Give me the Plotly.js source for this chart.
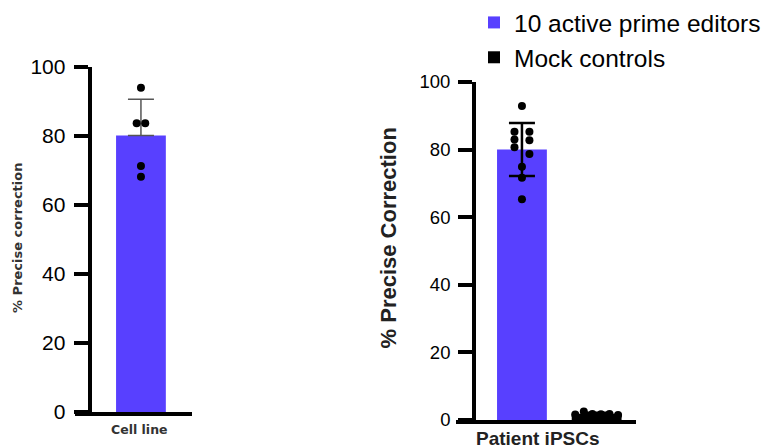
<!DOCTYPE html>
<html>
<head>
<meta charset="utf-8">
<script src="https://cdn.plot.ly/plotly-3.0.1.min.js"></script>
<style>html,body{margin:0;padding:0;background:#fff;}#chart{width:766px;height:448px;}</style>
</head>
<body>
<div id="chart"></div>
<script>
// ---------------- data ----------------
const leftCategory = ['Cell line'];
const rightGroupLabel = 'Patient iPSCs';
const seriesNames = ['10 active prime editors', 'Mock controls'];
const cellLineValues = [94.0, 83.7, 83.7, 71.3, 68.2];
const editorValues = [92.9, 85.3, 85.3, 83.0, 82.8, 80.7, 78.7, 74.9, 71.7, 65.3];
const mockValues = [1.6, 2.5, 1.8, 1.7, 1.8, 1.5];
const yTickValues = [0, 20, 40, 60, 80, 100];
const yTitles = ['% Precise correction', '% Precise Correction'];

// ---------------- helpers ----------------
const W = 766, H = 448;
const mean = a => a.reduce((s, v) => s + v, 0) / a.length;
const sd = a => { const m = mean(a); return Math.sqrt(a.reduce((s, v) => s + (v - m) * (v - m), 0) / (a.length - 1)); };

// beeswarm-like offsets (in px) for dots
function swarm(values, pxPerValue, clusterPx, diamPx, colGap, rowGap) {
  const order = values.map((v, i) => i).sort((a, b) => values[b] - values[a]);
  const clusters = [];
  let cur = [order[0]];
  for (let k = 1; k < order.length; k++) {
    const prev = values[cur[cur.length - 1]], v = values[order[k]];
    if ((prev - v) * pxPerValue < clusterPx) cur.push(order[k]); else { clusters.push(cur); cur = [order[k]]; }
  }
  clusters.push(cur);
  const off = new Array(values.length).fill(0);
  clusters.forEach(c => {
    if (c.length === 1) return;
    const vs = c.map(i => values[i]);
    const range = (Math.max(...vs) - Math.min(...vs)) * pxPerValue;
    if (range < diamPx) {
      const byIdx = c.slice().sort((a, b) => a - b);
      byIdx.forEach((i, k) => { off[i] = (k - (byIdx.length - 1) / 2) * rowGap; });
    } else {
      c.forEach((i, k) => { off[i] = (k % 2 === 0 ? -colGap : colGap); });
    }
  });
  return off;
}

// ---------------- geometry ----------------
const L = { x0: 75, x1: 193, yAxisX: 90, yTop: 67, yBot: 412, range: [-1.304, 1.0098] };
const R = { x0: 458, x1: 638, yAxisX: 476, yTop: 82, yBot: 420, range: [-0.88, 1.52] };
const pxPerUnit = g => (g.x1 - g.x0) / (g.range[1] - g.range[0]);
const pxPerVal = g => (g.yBot - g.yTop) / 100;

const blue = '#5840FF';

const lOff = swarm(cellLineValues, pxPerVal(L), 9, 8, 8, 8.6);
const eOff = swarm(editorValues, pxPerVal(R), 8.8, 8, 7.5, 8.6);
const mOff = swarm(mockValues, pxPerVal(R), 8.8, 8, 7.5, 8.6);

const traces = [
  { type: 'bar', x: [0], y: [mean(cellLineValues)], width: 0.98, marker: { color: blue }, showlegend: false,
    xaxis: 'x', yaxis: 'y',
    error_y: { type: 'data', symmetric: false, array: [sd(cellLineValues)], arrayminus: [0], color: '#555', thickness: 1.5, width: 13 } },
  { type: 'scatter', mode: 'markers', x: cellLineValues.map((v, i) => 0 + lOff[i] / pxPerUnit(L)), y: cellLineValues,
    marker: { color: '#000', size: 8 }, showlegend: false, xaxis: 'x', yaxis: 'y', hoverinfo: 'y' },
  { type: 'bar', name: seriesNames[0], x: [0], y: [mean(editorValues)], width: 0.667, marker: { color: blue },
    xaxis: 'x2', yaxis: 'y2',
    error_y: { type: 'data', array: [sd(editorValues)], color: '#000', thickness: 2.5, width: 13 } },
  { type: 'bar', name: seriesNames[1], x: [1], y: [mean(mockValues)], width: 0.667, marker: { color: '#000' },
    xaxis: 'x2', yaxis: 'y2',
    error_y: { type: 'data', array: [sd(mockValues)], color: '#000', thickness: 2.5, width: 13 } },
  { type: 'scatter', mode: 'markers', x: editorValues.map((v, i) => 0 + eOff[i] / pxPerUnit(R)), y: editorValues,
    marker: { color: '#000', size: 8 }, showlegend: false, xaxis: 'x2', yaxis: 'y2', hoverinfo: 'y' },
  { type: 'scatter', mode: 'markers', x: mockValues.map((v, i) => 1 + mOff[i] / pxPerUnit(R)), y: mockValues,
    marker: { color: '#000', size: 8 }, showlegend: false, xaxis: 'x2', yaxis: 'y2', hoverinfo: 'y' }
];

const yAxisCommon = {
  range: [0, 100], tickvals: yTickValues, ticktext: yTickValues.map(String), showgrid: false, zeroline: false,
  showline: true, linecolor: '#000', linewidth: 4, ticks: 'outside', ticklen: 14, tickwidth: 4, tickcolor: '#000',
  anchor: 'free', fixedrange: true
};
const xAxisCommon = {
  showgrid: false, zeroline: false, showline: true, linecolor: '#000', linewidth: 4, ticks: '',
  showticklabels: false, fixedrange: true
};

const layout = {
  width: W, height: H,
  margin: { l: 0, r: 0, t: 0, b: 0 },
  paper_bgcolor: '#fff', plot_bgcolor: 'rgba(0,0,0,0)',
  barmode: 'overlay',
  font: { family: 'Liberation Sans, Arial, sans-serif', color: '#000' },
  xaxis: Object.assign({}, xAxisCommon, { domain: [L.x0 / W, L.x1 / W], range: L.range, anchor: 'y' }),
  yaxis: Object.assign({}, yAxisCommon, { domain: [1 - L.yBot / H, 1 - L.yTop / H], position: L.yAxisX / W,
    tickfont: { size: 21, family: 'Liberation Sans, Arial, sans-serif', color: '#000' }, ticklabelstandoff: 4 }),
  xaxis2: Object.assign({}, xAxisCommon, { domain: [R.x0 / W, R.x1 / W], range: R.range, anchor: 'y2' }),
  yaxis2: Object.assign({}, yAxisCommon, { domain: [1 - R.yBot / H, 1 - R.yTop / H], position: R.yAxisX / W,
    tickfont: { size: 18.5, family: 'Liberation Sans, Arial, sans-serif', color: '#000' }, ticklabelstandoff: 4 }),
  showlegend: true,
  legend: {
    x: 476 / W, xanchor: 'left', y: 1, yanchor: 'top', bgcolor: 'rgba(0,0,0,0)',
    font: { size: 24.5, family: 'Liberation Sans, Arial, sans-serif', color: '#000' }, tracegroupgap: 0
  },
  annotations: [
    { text: '<b>' + leftCategory[0] + '</b>', xref: 'paper', yref: 'paper', x: 140 / W, y: 1 - 429 / H,
      xanchor: 'center', yanchor: 'middle', showarrow: false,
      font: { family: 'DejaVu Sans, Verdana, sans-serif', size: 12.5, color: '#333' } },
    { text: '<b>' + rightGroupLabel + '</b>', xref: 'paper', yref: 'paper', x: 540 / W, y: 1 - 438 / H,
      xanchor: 'center', yanchor: 'middle', showarrow: false,
      font: { family: 'Liberation Sans, Arial, sans-serif', size: 19, color: '#222' } },
    { text: '<b>' + yTitles[0] + '</b>', xref: 'paper', yref: 'paper', x: 17 / W, y: 1 - 238 / H,
      xanchor: 'center', yanchor: 'middle', showarrow: false, textangle: -90,
      font: { family: 'DejaVu Sans, Verdana, sans-serif', size: 13, color: '#333' } },
    { text: '<b>' + yTitles[1] + '</b>', xref: 'paper', yref: 'paper', x: 390 / W, y: 1 - 238 / H,
      xanchor: 'center', yanchor: 'middle', showarrow: false, textangle: -90,
      font: { family: 'Liberation Sans, Arial, sans-serif', size: 22, color: '#222' } }
  ]
};

Plotly.newPlot('chart', traces, layout, { displayModeBar: false, staticPlot: true });
</script>
</body>
</html>
